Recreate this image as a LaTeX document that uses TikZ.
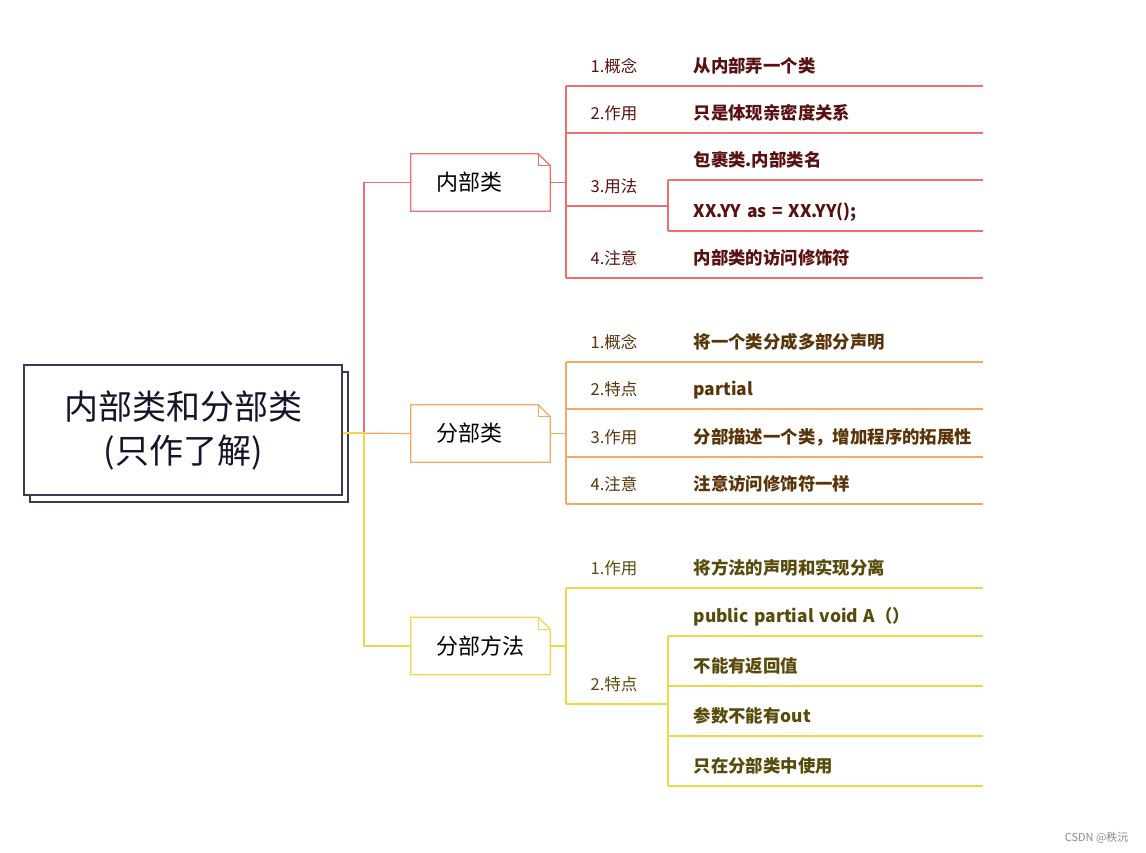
\documentclass[tikz,border=0pt]{standalone}
\usepackage{fontspec}
\setmainfont{Noto Sans CJK SC}
\usetikzlibrary{positioning, shadows}
\definecolor{rootline}{HTML}{3A3A58}
\definecolor{roottext}{HTML}{14142B}
\definecolor{redline}{HTML}{F26D6D}
\definecolor{redtext}{HTML}{5B1010}
\definecolor{orangeline}{HTML}{F7A862}
\definecolor{orangetext}{HTML}{5A3408}
\definecolor{yellowline}{HTML}{F5D44A}
\definecolor{yellowtext}{HTML}{574A0A}
\newcommand\dogear[2]{%
  \draw[#2, line width=1.2pt] (#1.north west) -- ([xshift=-12pt]#1.north east) -- ([yshift=-12pt]#1.north east) -- (#1.south east) -- (#1.south west) -- cycle;
  \draw[#2, line width=1pt] ([xshift=-12pt]#1.north east) |- ([yshift=-12pt]#1.north east);}

\begin{document}
\begin{tikzpicture}[x=1pt, y=-1pt,
  root/.style={draw=rootline, line width=1.4pt, fill=white, minimum width=318pt, minimum height=130pt,
    align=center, text=roottext, font=\fontsize{34}{44}\selectfont,
    copy shadow={shadow xshift=6pt, shadow yshift=-7pt, draw=rootline, fill=white, line width=1.4pt}},
  branch/.style={fill=white, minimum height=57pt, inner sep=0pt, text width=139pt, align=left,
    font=\fontsize{22}{26}\selectfont, execute at begin node={\hspace*{25pt}}},
  row/.style={anchor=south west, minimum height=38pt, inner sep=0pt, align=left,
    text height=15pt, text depth=2pt},
  topic/.style={row, text width=102pt, font=\fontsize{16.5}{20}\selectfont, execute at begin node={\hspace*{24pt}}},
  leaf/.style={row, text width=314pt, font=\bfseries\fontsize{17.4}{20}\selectfont, execute at begin node={\hspace*{25pt}}},
  link/.style={line width=1.2pt}]
\useasboundingbox (0,0) rectangle (1146,853);

\node[root] (root) at (183,430) {内部类和分部类\\(只作了解)};
\coordinate (hub) at (364,433);

\node[branch] (b1) at (480.5,182.5) {内部类};
\node[branch] (b2) at (480.5,433.5) {分部类};
\node[branch] (b3) at (480.5,646) {分部方法};
\dogear{b1}{redline}
\dogear{b2}{orangeline}
\dogear{b3}{yellowline}

\draw[link, redline] (hub -| root.east) -- (hub) |- (b1.west);
\draw[link, orangeline] (hub -| root.east) -- (b2.west);
\draw[link, yellowline] (hub -| root.east) -- (hub) |- (b3.west);

% 内部类
\begin{scope}[every node/.append style={text=redtext}, link, redline]
\node[topic] (k1) at (566,86) {1.概念};
\node[leaf] (l1) at (668,86) {从内部弄一个类};
\node[topic] (k2) at (566,133) {2.作用};
\node[leaf] (l2) at (668,133) {只是体现亲密度关系};
\node[topic] (k3) at (566,206) {3.用法};
\node[leaf] (l3a) at (668,180) {包裹类.内部类名};
\node[leaf] (l3b) at (668,231) {XX.YY as = XX.YY();};
\node[topic] (k4) at (566,278) {4.注意};
\node[leaf] (l4) at (668,278) {内部类的访问修饰符};
\draw (k1.south west) -- (l1.south east);
\draw (k2.south west) -- (l2.south east);
\draw (k3.south west) -- (k3.south east);
\draw (l3a.south west) -- (l3a.south east);
\draw (l3b.south west) -- (l3b.south east);
\draw (l3a.south west) -- (l3b.south west);
\draw (k4.south west) -- (l4.south east);
\draw (k1.south west) -- (k4.south west);
\draw (b1.east) -- (b1.east -| k1.south west);
\end{scope}

% 分部类
\begin{scope}[every node/.append style={text=orangetext}, link, orangeline]
\node[topic] (m1) at (566,362) {1.概念};
\node[leaf] (n1) at (668,362) {将一个类分成多部分声明};
\node[topic] (m2) at (566,409) {2.特点};
\node[leaf] (n2) at (668,409) {partial};
\node[topic] (m3) at (566,457) {3.作用};
\node[leaf] (n3) at (668,457) {分部描述一个类，增加程序的拓展性};
\node[topic] (m4) at (566,504) {4.注意};
\node[leaf] (n4) at (668,504) {注意访问修饰符一样};
\draw (m1.south west) -- (n1.south east);
\draw (m2.south west) -- (n2.south east);
\draw (m3.south west) -- (n3.south east);
\draw (m4.south west) -- (n4.south east);
\draw (m1.south west) -- (m4.south west);
\draw (b2.east) -- (b2.east -| m1.south west);
\end{scope}

% 分部方法
\begin{scope}[every node/.append style={text=yellowtext}, link, yellowline]
\node[topic] (p1) at (566,588) {1.作用};
\node[leaf] (q1) at (668,588) {将方法的声明和实现分离};
\node[topic] (p2) at (566,704) {2.特点};
\node[leaf] (q2a) at (668,636) {public partial void A（）};
\node[leaf] (q2b) at (668,686) {不能有返回值};
\node[leaf] (q2c) at (668,736) {参数不能有out};
\node[leaf] (q2d) at (668,786) {只在分部类中使用};
\draw (p1.south west) -- (q1.south east);
\draw (p2.south west) -- (p2.south east);
\draw (q2a.south west) -- (q2a.south east);
\draw (q2b.south west) -- (q2b.south east);
\draw (q2c.south west) -- (q2c.south east);
\draw (q2d.south west) -- (q2d.south east);
\draw (q2a.south west) -- (q2d.south west);
\draw (p1.south west) -- (p2.south west);
\draw (b3.east) -- (b3.east -| p1.south west);
\end{scope}

\node[anchor=east, text=black!45, font=\fontsize{11}{13}\selectfont] (mark) at (1132,838) {CSDN @秩沅};
\end{tikzpicture}
\end{document}
